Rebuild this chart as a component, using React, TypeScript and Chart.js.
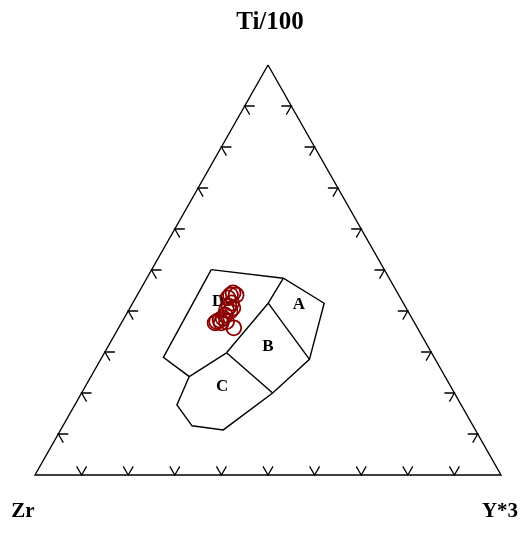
import React, { useEffect, useRef } from "react";
import { Chart, registerables } from "chart.js";

Chart.register(...registerables);

// Ternary values (percent): Ti/100, Zr, Y*3
// Sample points
const sampleTi = [44.4, 43.9, 43.2, 42.0, 41.1, 40.2, 39.9, 39.0, 38.3, 37.8, 37.4, 37.1, 37.4, 35.9, 37.1, 40.7, 43.9];
const sampleZr = [35.3, 36.1, 37.0, 36.9, 37.8, 38.8, 38.2, 39.7, 40.5, 41.4, 42.3, 41.5, 40.2, 39.4, 42.8, 37.2, 34.9];
const sampleY = [20.3, 20.0, 19.8, 21.2, 21.1, 21.0, 21.9, 21.3, 21.2, 20.8, 20.3, 21.4, 22.4, 24.7, 20.1, 22.1, 21.2];

// Field outline vertices [Ti, Zr, Y]
const outlineTi = [50.2, 48.0, 41.9, 28.2, 20.0, 11.0, 12.0, 17.1, 24.0, 28.7, 50.2];
const outlineZr = [37.2, 22.7, 17.0, 27.0, 39.0, 54.1, 60.3, 61.0, 54.9, 58.1, 37.2];
const outlineY = [12.8, 29.3, 41.1, 44.8, 41.0, 34.9, 27.7, 21.9, 21.1, 13.2, 12.8];

// Internal boundaries
const boundaryDA = { ti: [48.0, 41.9], zr: [22.7, 29.0], y: [29.3, 29.1] };
const boundaryAB = { ti: [41.9, 28.2], zr: [29.0, 27.0], y: [29.1, 44.8] };
const boundaryBD = { ti: [41.9, 29.8], zr: [29.0, 44.0], y: [29.1, 26.2] };
const boundaryBC = { ti: [29.8, 20.0], zr: [44.0, 39.0], y: [26.2, 41.0] };
const boundaryCD = { ti: [24.0, 29.8], zr: [54.9, 44.0], y: [21.1, 26.2] };

// Field labels
const fieldNames = ["A", "B", "C", "D"];
const fieldTi = [41.5, 31.2, 21.5, 42.2];
const fieldZr = [22.6, 34.4, 49.1, 39.6];
const fieldY = [35.9, 34.4, 29.4, 18.2];

// Apex labels
const apexLabels = ["Ti/100", "Zr", "Y*3"];
const tickFractions = [10, 20, 30, 40, 50, 60, 70, 80, 90];

function toXY(ti: number, zr: number, y: number) {
  const s = ti + zr + y;
  const t = ti / s;
  const yy = y / s;
  return { x: yy + t / 2, y: t };
}

function polyline(ti: number[], zr: number[], y: number[]) {
  return ti.map((t, i) => toXY(t, zr[i], y[i]));
}

const lineDs = (data: { x: number; y: number }[]) => ({
  type: "line" as const,
  data,
  borderColor: "#000000",
  borderWidth: 1.4,
  pointRadius: 0,
  showLine: true,
  fill: false,
  tension: 0,
  clip: false as any,
});

const annotationPlugin = {
  id: "ternaryDecor",
  beforeDatasetsDraw(chart: any) {
    const ctx = chart.ctx;
    const xs = chart.scales.x;
    const ys = chart.scales.y;
    ctx.save();
    ctx.fillStyle = "#000";
    ctx.font = "bold 17px 'Liberation Serif', 'Times New Roman', serif";
    ctx.textAlign = "center";
    ctx.textBaseline = "middle";
    fieldNames.forEach((n, i) => {
      const p = toXY(fieldTi[i], fieldZr[i], fieldY[i]);
      ctx.fillText(n, xs.getPixelForValue(p.x), ys.getPixelForValue(p.y));
    });
    ctx.restore();
  },
  afterDraw(chart: any) {
    const ctx = chart.ctx;
    const xs = chart.scales.x;
    const ys = chart.scales.y;
    ctx.save();
    ctx.strokeStyle = "#000";
    ctx.lineWidth = 1.3;
    const L = 10;
    const drawTick = (x: number, y: number, arms: number[][]) => {
      const px = xs.getPixelForValue(x);
      const py = ys.getPixelForValue(y);
      ctx.beginPath();
      ctx.moveTo(px + arms[0][0] * L, py + arms[0][1] * L);
      ctx.lineTo(px, py);
      ctx.lineTo(px + arms[1][0] * L, py + arms[1][1] * L);
      ctx.stroke();
    };
    tickFractions.forEach((f) => {
      // bottom edge (Ti = 0)
      const b = toXY(0, 100 - f, f);
      drawTick(b.x, b.y, [[-0.5, -0.866], [0.5, -0.866]]);
      // left edge (Y = 0)
      const l = toXY(f, 100 - f, 0);
      drawTick(l.x, l.y, [[1, 0], [0.5, 0.866]]);
      // right edge (Zr = 0)
      const r = toXY(f, 0, 100 - f);
      drawTick(r.x, r.y, [[-1, 0], [-0.5, 0.866]]);
    });

    ctx.fillStyle = "#000";
    ctx.textAlign = "center";
    ctx.textBaseline = "middle";
    const top = toXY(100, 0, 0);
    const left = toXY(0, 100, 0);
    const right = toXY(0, 0, 100);
    ctx.font = "bold 25px 'Liberation Serif', 'Times New Roman', serif";
    ctx.fillText(apexLabels[0], xs.getPixelForValue(top.x) + 2, ys.getPixelForValue(top.y) - 42);
    ctx.font = "bold 21px 'Liberation Serif', 'Times New Roman', serif";
    ctx.fillText(apexLabels[1], xs.getPixelForValue(left.x) - 12, ys.getPixelForValue(left.y) + 37);
    ctx.fillText(apexLabels[2], xs.getPixelForValue(right.x) - 1, ys.getPixelForValue(right.y) + 37);
    ctx.restore();
  },
};

export default function App() {
  const ref = useRef<HTMLCanvasElement | null>(null);
  useEffect(() => {
    if (!ref.current) return;
    const frame = polyline([100, 0, 0, 100], [0, 100, 0, 0], [0, 0, 100, 0]);
    const chart = new Chart(ref.current, {
      type: "scatter",
      data: {
        datasets: [
          {
            type: "scatter",
            data: sampleTi.map((t, i) => toXY(t, sampleZr[i], sampleY[i])),
            pointStyle: "circle",
            pointRadius: 7.5,
            borderColor: "#8b0000",
            backgroundColor: "rgba(0,0,0,0)",
            borderWidth: 1.8,
            clip: false as any,
          } as any,
          lineDs(frame) as any,
          lineDs(polyline(outlineTi, outlineZr, outlineY)) as any,
          lineDs(polyline(boundaryDA.ti, boundaryDA.zr, boundaryDA.y)) as any,
          lineDs(polyline(boundaryAB.ti, boundaryAB.zr, boundaryAB.y)) as any,
          lineDs(polyline(boundaryBD.ti, boundaryBD.zr, boundaryBD.y)) as any,
          lineDs(polyline(boundaryBC.ti, boundaryBC.zr, boundaryBC.y)) as any,
          lineDs(polyline(boundaryCD.ti, boundaryCD.zr, boundaryCD.y)) as any,
        ],
      },
      options: {
        responsive: false,
        animation: false,
        layout: { padding: { left: 35, right: 26, top: 65, bottom: 59 } },
        scales: {
          x: { type: "linear", min: 0, max: 1, display: false },
          y: { type: "linear", min: 0, max: 1, display: false },
        },
        plugins: {
          legend: { display: false },
          tooltip: { enabled: false },
          title: { display: false },
        },
      },
      plugins: [annotationPlugin],
    });
    return () => chart.destroy();
  }, []);
  return (
    <div style={{ position: "absolute", left: 0, top: 0, width: 527, height: 534 }}>
      <canvas ref={ref} width={527} height={534} style={{ display: "block" }} />
    </div>
  );
}
